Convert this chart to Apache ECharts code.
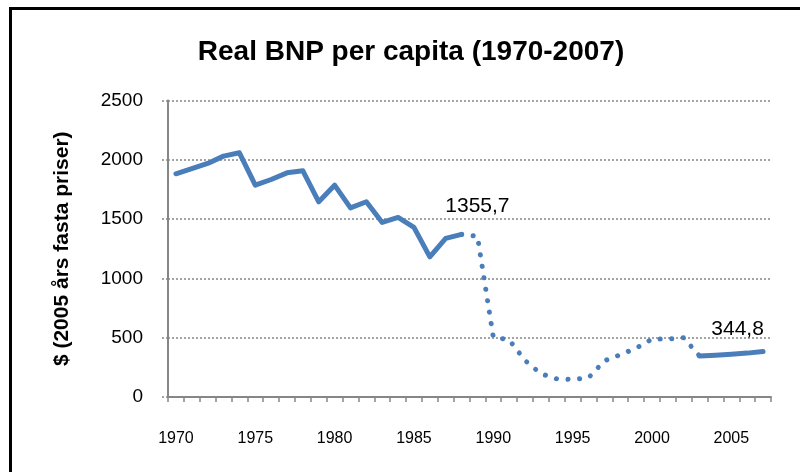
<!DOCTYPE html>
<html>
<head>
<meta charset="utf-8">
<script src="https://cdn.jsdelivr.net/npm/echarts@6/dist/echarts.min.js"></script>
<style>
  html, body { margin: 0; padding: 0; background: #fff; }
  #frame { position: absolute; left: 9px; top: 7px; width: 820px; height: 520px; border: 3px solid #000; box-sizing: border-box; }
  #chart { position: absolute; left: 0; top: 0; width: 800px; height: 472px; }
</style>
</head>
<body>
<div id="frame"></div>
<div id="chart"></div>
<script>
// data
const years = [1970, 1971, 1972, 1973, 1974, 1975, 1976, 1977, 1978, 1979,
  1980, 1981, 1982, 1983, 1984, 1985, 1986, 1987, 1988, 1989,
  1990, 1991, 1992, 1993, 1994, 1995, 1996, 1997, 1998, 1999,
  2000, 2001, 2002, 2003, 2004, 2005, 2006, 2007];
const bnp = [1882, 1925, 1969, 2031, 2059, 1786, 1834, 1890, 1907, 1646,
  1786, 1595, 1646, 1472, 1514, 1430, 1182, 1337, 1371, 1355.7,
  505, 482, 308, 196, 153, 148, 162, 305, 356, 412,
  488, 488, 499, 344.8, 352, 360, 370, 383];
const yTicks = [0, 500, 1000, 1500, 2000, 2500];
const dottedFrom = 1988; // dotted part of the line
const dottedTo = 2003;

const fmt = function(v) { return String(v).replace('.', ','); };

const solidData = bnp.map(function(v, i) {
  const y = years[i];
  if (y > dottedFrom && y < dottedTo) return null;
  if (y === 2003) {
    return { value: v, label: { show: true, position: 'top', distance: 16, offset: [38, 0], formatter: fmt(v) } };
  }
  return v;
});
const dottedData = bnp.map(function(v, i) {
  const y = years[i];
  if (y < dottedFrom || y > dottedTo) return null;
  if (y === 1989) {
    return { value: v, label: { show: true, position: 'top', distance: 20, formatter: fmt(v) } };
  }
  return v;
});

document.addEventListener('DOMContentLoaded', function() {
  const chart = echarts.init(document.getElementById('chart'));
  const blue = '#4a7ebb';
  const option = {
    animation: false,
    title: {
      text: 'Real BNP per capita (1970-2007)',
      left: 406, top: 33, textAlign: 'center',
      textStyle: { fontFamily: 'Liberation Sans', fontWeight: 'bold', fontSize: 28, color: '#000' }
    },
    grid: { left: 168, right: 29, top: 100.5, bottom: 75 },
    xAxis: {
      type: 'category',
      data: years,
      boundaryGap: true,
      axisLine: { lineStyle: { color: '#868686', width: 2 } },
      axisTick: { show: true, interval: 0, length: 5, inside: false, lineStyle: { color: '#868686', width: 1.5 } },
      axisLabel: { interval: 4, margin: 34, fontFamily: 'Liberation Sans', fontSize: 16, color: '#000' },
      splitLine: { show: false }
    },
    yAxis: {
      type: 'value',
      min: yTicks[0], max: yTicks[yTicks.length - 1], interval: 500,
      name: '$ (2005 års fasta priser)',
      nameLocation: 'middle',
      nameGap: 95,
      nameTextStyle: { fontFamily: 'Liberation Sans', fontWeight: 'bold', fontSize: 21, color: '#000' },
      axisLine: { show: true, lineStyle: { color: '#868686', width: 2 } },
      axisTick: { show: true, length: 7, lineStyle: { color: '#868686', width: 1.5, type: [2, 2] } },
      axisLabel: { margin: 25, fontFamily: 'Liberation Sans', fontSize: 19, color: '#000', formatter: function(v) { return String(v); } },
      splitLine: { lineStyle: { color: '#868686', width: 1.5, type: [2, 2] } }
    },
    series: [
      {
        name: 'solid', type: 'line', data: solidData, symbol: 'circle', symbolSize: 0, showSymbol: true, connectNulls: false,
        lineStyle: { color: blue, width: 5, cap: 'round', join: 'round' },
        itemStyle: { color: blue },
        label: { fontFamily: 'Liberation Sans', fontSize: 21, color: '#000' },
        z: 3
      },
      {
        name: 'dotted', type: 'line', data: dottedData, symbol: 'circle', symbolSize: 0, showSymbol: true, connectNulls: false,
        lineStyle: { color: blue, width: 5, cap: 'round', join: 'round', type: [0.1, 11.5] },
        itemStyle: { color: blue },
        label: { fontFamily: 'Liberation Sans', fontSize: 21, color: '#000' },
        z: 2
      }
    ]
  };
  chart.setOption(option);
});
</script>
</body>
</html>
